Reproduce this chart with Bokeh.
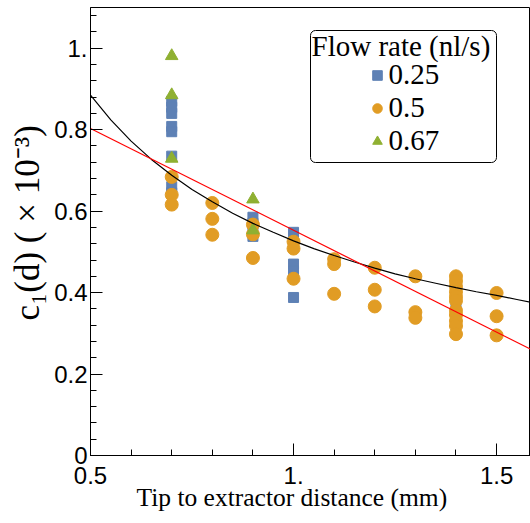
import math
from bokeh.plotting import figure
from bokeh.models import (Range1d, FixedTicker, Label, Legend, LegendItem, BoxAnnotation, Title)
from bokeh.embed import file_html
from bokeh.resources import INLINE

# ---------------- data ----------------
# Flow rate 0.25 nl/s (squares)
q025_x = [0.7, 0.7, 0.7, 0.7, 0.7, 0.7, 0.7, 0.7,
          0.9, 0.9, 0.9, 0.9,
          1.0, 1.0, 1.0, 1.0,
          1.4]
q025_y = [0.870, 0.855, 0.840, 0.808, 0.795, 0.735, 0.660, 0.645,
          0.585, 0.570, 0.555, 0.538,
          0.548, 0.470, 0.452, 0.388,
          0.372]

# Flow rate 0.5 nl/s (circles)
q05_x = [0.7, 0.7, 0.7,
         0.8, 0.8, 0.8,
         0.9, 0.9, 0.9,
         1.0, 1.0, 1.0,
         1.1, 1.1, 1.1,
         1.2, 1.2, 1.2,
         1.3, 1.3, 1.3,
         1.4, 1.4, 1.4, 1.4, 1.4, 1.4, 1.4, 1.4, 1.4, 1.4, 1.4,
         1.5, 1.5, 1.5]
q05_y = [0.684, 0.640, 0.616,
         0.620, 0.581, 0.542,
         0.567, 0.543, 0.485,
         0.525, 0.508, 0.434,
         0.482, 0.470, 0.397,
         0.461, 0.407, 0.366,
         0.440, 0.352, 0.338,
         0.440, 0.428, 0.415, 0.402, 0.390, 0.380, 0.356, 0.345, 0.330, 0.318, 0.298,
         0.399, 0.342, 0.295]

# Flow rate 0.67 nl/s (triangles)
q067_x = [0.7, 0.7, 0.7, 0.9, 0.9]
q067_y = [0.981, 0.885, 0.729, 0.629, 0.553]

# fitted curves
fit_black_x = [0.50, 0.55, 0.60, 0.65, 0.70, 0.75, 0.80, 0.85, 0.90, 0.95, 1.00,
               1.05, 1.10, 1.15, 1.20, 1.25, 1.30, 1.35, 1.40, 1.45, 1.50, 1.55, 1.60]
fit_black_y = [0.885, 0.824, 0.772, 0.727, 0.688, 0.653, 0.623, 0.595, 0.570, 0.548, 0.527,
               0.508, 0.491, 0.475, 0.460, 0.446, 0.434, 0.423, 0.412, 0.402, 0.393, 0.383, 0.373]
fit_red_x = [0.5, 1.6]
fit_red_y = [0.803, 0.253]

x_ticks = [0.5, 1.0, 1.5]
x_tick_labels = ["0.5", "1.", "1.5"]
y_ticks = [0.0, 0.2, 0.4, 0.6, 0.8, 1.0]
y_tick_labels = ["0", "0.2", "0.4", "0.6", "0.8", "1."]
legend_title = "Flow rate (nl/s)"
series_labels = ["0.25", "0.5", "0.67"]
x_title = "Tip to extractor distance (mm)"
y_title = "c\u2081(d) ( \u00d7 10\u207b\u00b3)"

BLUE = "#5E81B5"
ORANGE = "#E19C24"
GREEN = "#8FB032"
SERIF = "Liberation Serif"

# ---------------- figure ----------------
p = figure(width=530, height=523, x_range=Range1d(0.5, 1.5835), y_range=Range1d(0, 1.1),
           output_backend="svg", toolbar_location=None,
           min_border_left=89, min_border_right=0, min_border_top=7, min_border_bottom=68)
p.grid.visible = False
p.outline_line_color = "black"
p.outline_line_width = 1
p.background_fill_color = "white"
p.border_fill_color = "white"

x_minor = [0.6, 0.7, 0.8, 0.9, 1.1, 1.2, 1.3, 1.4, 1.6]
y_minor = [round(0.04 * i, 2) for i in range(1, 28)]
p.xaxis.ticker = FixedTicker(ticks=x_ticks, minor_ticks=x_minor)
p.yaxis.ticker = FixedTicker(ticks=y_ticks, minor_ticks=y_minor)
p.xaxis.major_label_overrides = {t: l for t, l in zip(x_ticks, x_tick_labels)}
p.yaxis.major_label_overrides = {t: l for t, l in zip(y_ticks, y_tick_labels)}

for ax in (p.xaxis, p.yaxis):
    ax.major_tick_in = 12
    ax.major_tick_out = 0
    ax.minor_tick_in = 6
    ax.minor_tick_out = 0
    ax.axis_line_color = "black"
    ax.major_tick_line_color = "black"
    ax.minor_tick_line_color = "black"
    ax.major_label_text_font = "Liberation Sans"
    ax.major_label_text_font_size = "24px"
    ax.major_label_text_color = "black"
p.xaxis.major_label_standoff = 11
p.yaxis.major_label_standoff = 3

r_sq = p.scatter(q025_x, q025_y, marker="square", size=10, fill_color=BLUE, line_color=BLUE)
r_ci = p.scatter(q05_x, q05_y, marker="circle", size=13, fill_color=ORANGE, line_color=ORANGE)
r_tr = p.scatter(q067_x, q067_y, marker="triangle", size=12.5, fill_color=GREEN, line_color=GREEN)

p.line(fit_black_x, fit_black_y, line_color="black", line_width=1.2)
p.line(fit_red_x, fit_red_y, line_color="red", line_width=1.2)

# legend box
box = BoxAnnotation(left=220, right=406, bottom=293, top=425,
                    left_units="screen", right_units="screen",
                    bottom_units="screen", top_units="screen",
                    fill_color="white", fill_alpha=1.0,
                    line_color="black", line_width=1, line_alpha=1.0,
                    border_radius=5)
p.add_layout(box)

# legend glyphs (labels drawn as serif text below)
legend = Legend(items=[LegendItem(label=" ", renderers=[r_sq]),
                       LegendItem(label=" ", renderers=[r_ci]),
                       LegendItem(label=" ", renderers=[r_tr])],
                location=(275, 299), orientation="vertical",
                glyph_width=24, glyph_height=30, label_standoff=0, spacing=3,
                label_height=30, label_width=10,
                padding=0, margin=0, border_line_alpha=0, background_fill_alpha=0,
                label_text_font_size="10px")
p.add_layout(legend, "center")

p.add_layout(Label(x=221, y=410, x_units="screen", y_units="screen", text=legend_title,
                   text_font=SERIF, text_font_size="29px",
                   text_align="left", text_baseline="alphabetic", text_color="black"))
for lab, yb in zip(series_labels, [381, 348, 315]):
    p.add_layout(Label(x=298, y=yb, x_units="screen", y_units="screen", text=lab,
                       text_font=SERIF, text_font_size="29px",
                       text_align="left", text_baseline="alphabetic", text_color="black"))

p.add_layout(Title(text=x_title, align="left", offset=46, standoff=-12,
                   text_font=SERIF, text_font_size="25.5px",
                   text_font_style="normal", text_color="black"), "below")
p.add_layout(Title(text=y_title, align="left", offset=135, standoff=10,
                   text_font=SERIF, text_font_size="35px",
                   text_font_style="normal", text_color="black"), "left")

open("out.html", "w").write(file_html(p, INLINE))
